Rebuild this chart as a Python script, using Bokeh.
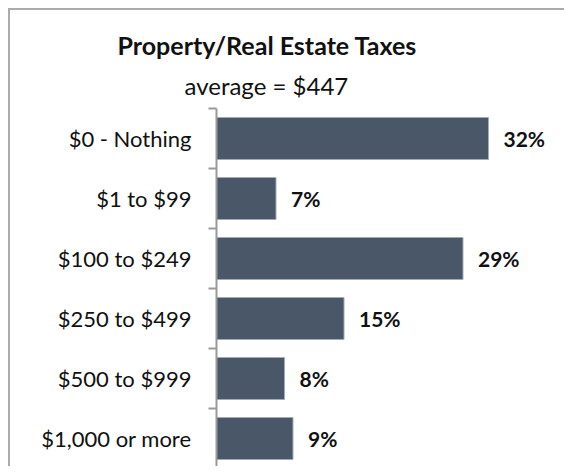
from bokeh.plotting import figure
from bokeh.models import Range1d, FixedTicker, Title
from bokeh.core.properties import value
from bokeh.embed import file_html
from bokeh.resources import INLINE

# ---- data ----
categories = ["$0 - Nothing", "$1 to $99", "$100 to $249", "$250 to $499", "$500 to $999", "$1,000 or more"]
percents = [32, 7, 29, 15, 8, 9]
title_text = "Property/Real Estate Taxes"
subtitle_text = "average = $447"

# ---- layout constants ----
W, H = 556, 458
LEFT, TOP, BOTTOM = 206, 98, 0
FRAME_W = W - LEFT
PX_X = 8.5
N = len(categories)

FONT = "Lato"
TXT = "#111111"
GRID = "#9a9a9a"

p = figure(width=W, height=H, output_backend="svg", toolbar_location=None,
           x_range=Range1d(0, FRAME_W / PX_X), y_range=Range1d(N, 0),
           min_border_left=LEFT, min_border_top=TOP, min_border_right=0,
           min_border_bottom=BOTTOM)
p.styles = {"margin-left": "8px", "margin-top": "8px",
            "border-top": "2px solid #ababab", "border-left": "2px solid #ababab"}
p.xaxis.visible = False
p.xgrid.visible = False
p.ygrid.visible = False
p.outline_line_color = None
p.background_fill_color = "white"
p.border_fill_color = "white"

ys = [i + 0.5 for i in range(N)]
p.hbar(y=ys, left=0, right=percents, height=0.7, fill_color="#4a5769",
       line_color="#a3abb4", line_width=1)

p.text(x=percents, y=ys, text=[f"{v}%" for v in percents], x_offset=15,
       text_baseline="middle", text_align="left", text_font=value(FONT),
       text_font_style="bold", text_font_size="21px", text_color=TXT)

ax = p.yaxis[0]
ax.ticker = FixedTicker(ticks=ys, minor_ticks=list(range(N + 1)))
ax.major_label_overrides = {y: c for y, c in zip(ys, categories)}
ax.major_tick_out = 0
ax.major_tick_in = 0
ax.minor_tick_out = 8
ax.minor_tick_in = 0
ax.minor_tick_line_color = GRID
ax.minor_tick_line_width = 2
ax.axis_line_color = GRID
ax.axis_line_width = 2
ax.major_label_standoff = 17
ax.major_label_text_font = FONT
ax.major_label_text_font_size = "22px"
ax.major_label_text_color = TXT

# titles (subtitle first: nearest the frame)
p.add_layout(Title(text=subtitle_text, align="left", offset=-32, standoff=18,
                   text_font=FONT, text_font_style="normal", text_font_size="24px",
                   text_color=TXT), "above")
p.add_layout(Title(text=title_text, align="left", offset=-99, standoff=0,
                   text_font=FONT, text_font_style="bold", text_font_size="25px",
                   text_color=TXT), "above")

open("out.html", "w").write(file_html(p, INLINE))
